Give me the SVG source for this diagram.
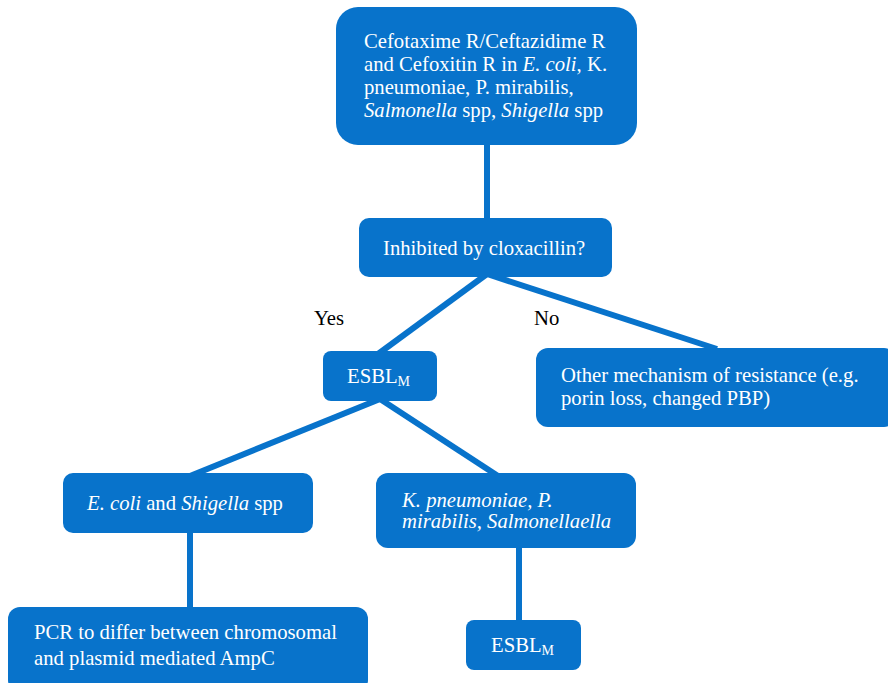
<svg xmlns="http://www.w3.org/2000/svg" width="888" height="683" viewBox="0 0 888 683">
<style>
.box{fill:#0873cb}
.t{font-family:'Liberation Serif','Times New Roman',serif;font-size:20.7px;fill:#fff}
.lbl{font-family:'Liberation Serif','Times New Roman',serif;font-size:20.7px;fill:#000}
.c{stroke:#0873cb;stroke-width:6;fill:none}
.sub{font-size:14px}
.i{font-style:italic}
</style>
<rect width="888" height="683" fill="#fff"/>
<g id="connectors">
<line class="c" x1="487" y1="140" x2="487" y2="222"/>
<line class="c" x1="487" y1="274" x2="378" y2="354"/>
<line class="c" x1="487" y1="274" x2="717" y2="349"/>
<line class="c" x1="380" y1="399" x2="190" y2="476"/>
<line class="c" x1="380" y1="399" x2="498" y2="476"/>
<line class="c" x1="190" y1="530" x2="190" y2="610"/>
<line class="c" x1="519" y1="545" x2="519" y2="623"/>
</g>
<g id="n1">
<rect class="box" x="336" y="7" width="301" height="138" rx="22"/>
<text class="t"><tspan x="364" y="48">Cefotaxime R/Ceftazidime R</tspan><tspan x="364" y="71">and Cefoxitin R in <tspan class="i">E. coli</tspan>, K.</tspan><tspan x="364" y="94">pneumoniae, P. mirabilis,</tspan><tspan x="364" y="117"><tspan class="i">Salmonella</tspan> spp, <tspan class="i">Shigella</tspan> spp</tspan></text>
</g>
<g id="n2">
<rect class="box" x="359" y="218" width="253" height="59" rx="10"/>
<text class="t" x="383" y="255">Inhibited by cloxacillin?</text>
</g>
<g id="lblYes"><text class="lbl" x="314" y="325">Yes</text></g>
<g id="lblNo"><text class="lbl" x="534" y="325">No</text></g>
<g id="n3">
<rect class="box" x="323" y="351" width="114" height="50" rx="8"/>
<text class="t" x="347" y="383">ESBL<tspan class="sub" dy="3">M</tspan></text>
</g>
<g id="n4">
<rect class="box" x="536" y="348" width="360" height="79" rx="12"/>
<text class="t"><tspan x="561" y="382">Other mechanism of resistance (e.g.</tspan><tspan x="561" y="405">porin loss, changed PBP)</tspan></text>
</g>
<g id="n5">
<rect class="box" x="63" y="473" width="250" height="60" rx="10"/>
<text class="t" x="87" y="510"><tspan class="i">E. coli</tspan> and <tspan class="i">Shigella</tspan> spp</text>
</g>
<g id="n6">
<rect class="box" x="376" y="473" width="260" height="75" rx="12"/>
<text class="t i"><tspan x="402" y="507">K. pneumoniae, P.</tspan><tspan x="402" y="528">mirabilis, Salmonellaella</tspan></text>
</g>
<g id="n7">
<rect class="box" x="8" y="607" width="360" height="85" rx="12"/>
<text class="t"><tspan x="34" y="639">PCR to differ between chromosomal</tspan><tspan x="34" y="665">and plasmid mediated AmpC</tspan></text>
</g>
<g id="n8">
<rect class="box" x="466" y="620" width="115" height="50" rx="8"/>
<text class="t" x="491" y="652">ESBL<tspan class="sub" dy="3">M</tspan></text>
</g>
</svg>
